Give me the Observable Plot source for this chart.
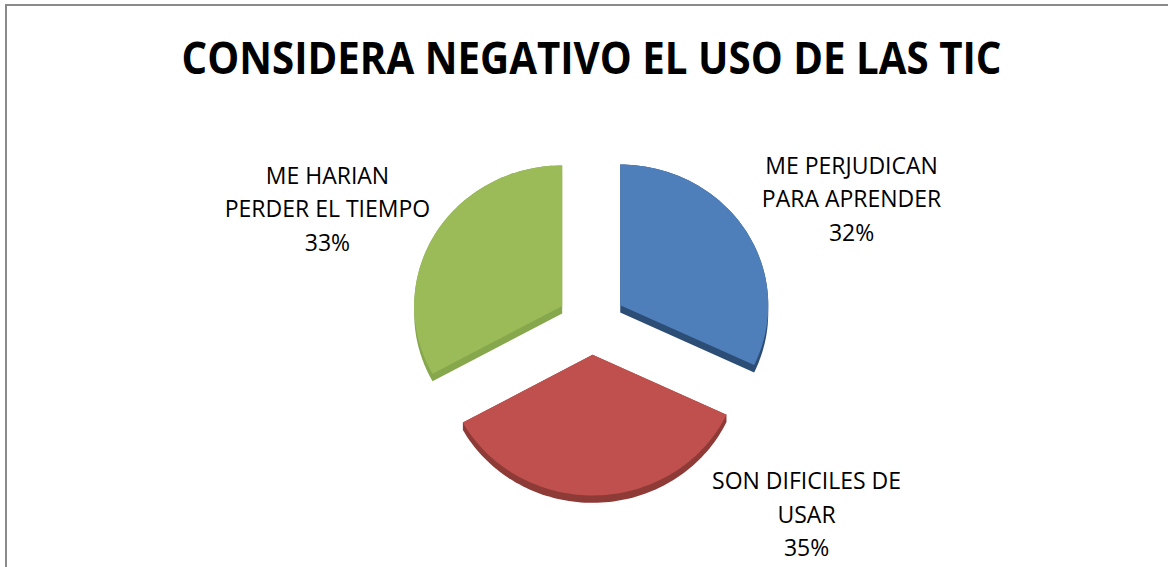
<!DOCTYPE html>
<html><head><meta charset="utf-8">
<script src="https://cdn.jsdelivr.net/npm/d3@7"></script>
<script src="https://cdn.jsdelivr.net/npm/@observablehq/plot@0.6"></script>
<style>
body{margin:0;background:#fff;}
#wrap{position:relative;width:1168px;height:567px;overflow:hidden;background:#fff;}
#border{position:absolute;left:5px;top:4px;width:1200px;height:600px;border-top:2px solid #8a8a8a;border-left:2px solid #8a8a8a;}
#chart{position:absolute;left:0;top:0;}
</style></head><body>
<div id="wrap"><div id="border"></div><div id="chart"></div></div>
<script>
const title = "CONSIDERA NEGATIVO EL USO DE LAS TIC";
const categories = ["ME PERJUDICAN\nPARA APRENDER", "SON DIFICILES DE\nUSAR", "ME HARIAN\nPERDER EL TIEMPO"];
const values = [32, 35, 33];
const topColors = ["#4e7fba", "#bf504d", "#9bbb59"];
const sideColors = ["#2c4d75", "#8e3b38", "#87a74c"];
// label anchor offsets from pie centre, in pie radii
const labelDX = [1.757, 1.453, -1.784];
const labelDY = [-0.851, 1.281, -0.784];

const W = 1168, H = 567;
const cx = 591, cy = 322, R = 148;
const tilt = 0.95, explode = 0.23, depth = 0.05;

const total = d3.sum(values);
const arcs = d3.pie().sort(null).startAngle(0).endAngle(2 * Math.PI)(values);

const tops = [], sides = [];
arcs.forEach((s, i) => {
  const m = (s.startAngle + s.endAngle) / 2;
  const ox = explode * Math.sin(m), oy = -explode * Math.cos(m) * tilt;
  const pts = [[ox, oy]];
  const n = 80;
  for (let k = 0; k <= n; k++) {
    const a = s.startAngle + (s.endAngle - s.startAngle) * k / n;
    pts.push([ox + Math.sin(a), oy - Math.cos(a) * tilt]);
  }
  const hull = d3.polygonHull(pts.concat(pts.map(([x, y]) => [x, y + depth])));
  tops.push(pts.concat([pts[0]]).map(([x, y]) => ({x, y, i})));
  sides.push(hull.concat([hull[0]]).map(([x, y]) => ({x, y, i})));
});

const labels = values.map((v, i) => ({
  x: labelDX[i], y: labelDY[i],
  text: categories[i] + "\n" + Math.round(v / total * 100) + "%"
}));

const marks = [];
[2, 0, 1].forEach(i => {
  marks.push(Plot.line(sides[i], {x: "x", y: "y", fill: sideColors[i], stroke: "none", curve: "linear-closed"}));
  marks.push(Plot.line(tops[i], {x: "x", y: "y", fill: topColors[i], stroke: "none", curve: "linear-closed"}));
});
marks.push(Plot.text(labels, {x: "x", y: "y", text: "text", lineAnchor: "middle", lineHeight: 1.46,
  fontSize: 23, fill: "#000", fontFamily: "Open Sans"}));
marks.push(Plot.text([title], {x: () => 0, frameAnchor: "top", dy: 59, lineAnchor: "middle", text: d => d,
  fontSize: 45, fontWeight: "bold", fill: "#000", fontFamily: "Open Sans", className: "ttl"}));

const plot = Plot.plot({
  width: W, height: H, margin: 0,
  style: {background: "transparent", fontFamily: "Open Sans"},
  x: {domain: [-cx / R, (W - cx) / R], range: [0, W], axis: null},
  y: {domain: [-cy / R, (H - cy) / R], range: [0, H], axis: null},
  marks
});
document.getElementById("chart").appendChild(plot);
plot.querySelectorAll(".ttl text").forEach(t => {
  t.setAttribute("textLength", 820);
  t.setAttribute("lengthAdjust", "spacingAndGlyphs");
});
</script>
</body></html>
